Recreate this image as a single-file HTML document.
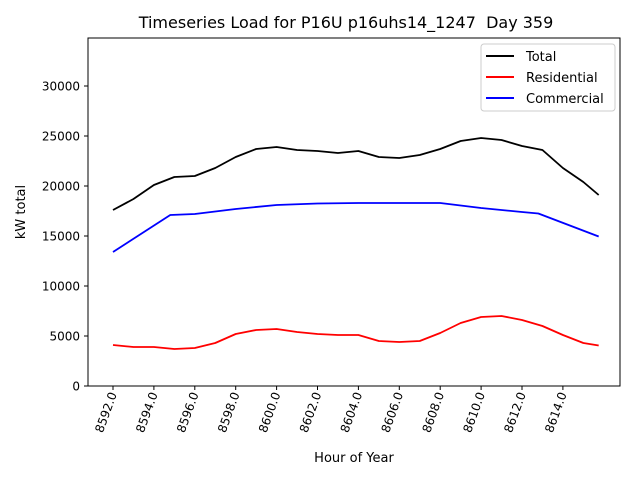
<!DOCTYPE html>
<html><head><meta charset="utf-8"><style>
body{margin:0;background:#fff}
svg{font-family:"DejaVu Sans","Liberation Sans",sans-serif}
</style></head><body>
<svg id="chart" width="640" height="480">
<rect width="640" height="480" fill="#fff"/>
<text x="346" y="28" font-size="16" text-anchor="middle">Timeseries Load for P16U p16uhs14_1247 &#160;Day 359</text>
<g id="plot"></g>
<rect x="88" y="38" width="532" height="348" fill="none" stroke="#000" stroke-width="1"/>
<text x="354" y="462" font-size="13" text-anchor="middle">Hour of Year</text>
<text transform="translate(25,212) rotate(-90)" font-size="13" text-anchor="middle">kW total</text>
<g>
<rect x="481" y="44" width="134" height="67" rx="3" fill="#fff" stroke="#ccc"/>
<line x1="486" y1="56" x2="514" y2="56" stroke="#000" stroke-width="2"/>
<text x="526" y="61" font-size="13">Total</text>
<line x1="486" y1="77" x2="514" y2="77" stroke="#f00" stroke-width="2"/>
<text x="526" y="82" font-size="13">Residential</text>
<line x1="486" y1="98" x2="514" y2="98" stroke="#00f" stroke-width="2"/>
<text x="526" y="103" font-size="13">Commercial</text>
</g>
</svg>
<script>
const totalHours=[8592,8593,8594,8595,8596,8596.5,8597,8598,8599,8600,8601,8602,8603,8604,8605,8606,8607,8608,8609,8610,8611,8612,8613,8614,8615,8615.75];
const totalValues=[17600,18700,20100,20900,21000,21400,21800,22900,23700,23900,23600,23500,23300,23500,22900,22800,23100,23700,24500,24800,24600,24000,23600,21800,20400,19100];
const commHours=[8592,8594.8,8596,8598,8600,8602,8604,8606,8608,8610,8612,8612.8,8615.75];
const commValues=[13400,17100,17200,17700,18100,18250,18300,18300,18300,17800,17400,17250,14950];
const resHours=[8592,8593,8594,8595,8596,8597,8598,8599,8600,8601,8602,8603,8604,8605,8606,8607,8608,8609,8610,8611,8612,8613,8614,8615,8615.75];
const resValues=[4100,3900,3900,3700,3800,4300,5200,5600,5700,5400,5200,5100,5100,4500,4400,4500,5300,6300,6900,7000,6600,6000,5100,4300,4050];
const xTicks=[8592,8594,8596,8598,8600,8602,8604,8606,8608,8610,8612,8614];
const yTicks=[0,5000,10000,15000,20000,25000,30000];
const NS="http://www.w3.org/2000/svg";
function xs(h){return 113+(h-8592)*20.45;}
function ys(v){return 386-v/100;}
const g=document.getElementById('plot');
function mk(t,a){const e=document.createElementNS(NS,t);for(const k in a)e.setAttribute(k,a[k]);return e;}
yTicks.forEach(v=>{
  const l=mk('line',{x1:84,x2:88,y1:ys(v),y2:ys(v),stroke:'#000'});
  
  
  g.appendChild(l);
  const t=mk('text',{x:80,y:ys(v)+4.5,'font-size':12,'text-anchor':'end'});
  t.textContent=v;
  
  
  g.appendChild(t);
});
xTicks.forEach(h=>{
  const x=xs(h);
  const l=mk('line',{x1:x,x2:x,y1:386,y2:390,stroke:'#000'});
  
  
  g.appendChild(l);
  const t=mk('text',{transform:`translate(${x+4},394) rotate(-70)`,'font-size':12,'text-anchor':'end'});
  t.textContent=h.toFixed(1);
  
  
  g.appendChild(t);
});
function series(hs,vs,color,name){
  const p=mk('polyline',{points:hs.map((h,i)=>xs(h)+','+ys(vs[i])).join(' '),fill:'none',stroke:color,'stroke-width':1.8,'stroke-linejoin':'round'});
  
  
  g.appendChild(p);
}
series(totalHours,totalValues,'#000','total-line');
series(resHours,resValues,'#f00','residential-line');
series(commHours,commValues,'#00f','commercial-line');
</script>
</body></html>
